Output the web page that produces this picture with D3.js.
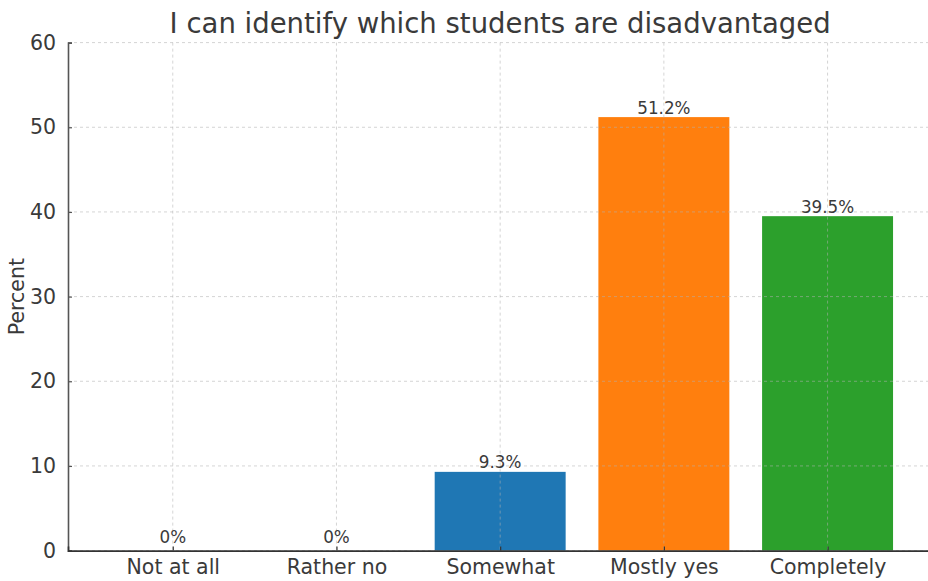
<!DOCTYPE html>
<html>
<head>
<meta charset="utf-8">
<script src="https://cdn.jsdelivr.net/npm/d3@7"></script>
<style>
  html, body { margin: 0; padding: 0; background: #fff; overflow: hidden; }
  svg { display: block; font-family: "DejaVu Sans", sans-serif; }
</style>
</head>
<body>
<svg id="chart" width="928" height="581"></svg>
<script>
const categories = ["Not at all", "Rather no", "Somewhat", "Mostly yes", "Completely"];
const values = [0, 0, 9.3, 51.2, 39.5];
const valueLabels = ["0%", "0%", "9.3%", "51.2%", "39.5%"];
const barColors = ["#1f77b4", "#1f77b4", "#1f77b4", "#ff7f0e", "#2ca02c"];
const yTicks = [0, 10, 20, 30, 40, 50, 60];
const title = "I can identify which students are disadvantaged";
const yLabel = "Percent";

const svg = d3.select("#chart");
const mLeft = 68, mTop = 42.6, mBottom = 550.6;
const step = 163.7;
const x = d3.scaleLinear().domain([-0.64, 4.64]).range([mLeft, mLeft + 5.28 * step]);
const y = d3.scaleLinear().domain([0, 60]).range([mBottom, mTop]);
const textColor = "#3a3a3a";

// bars
const bw = 0.8;
svg.append("g").selectAll("rect").data(values).join("rect")
  .attr("x", (d, i) => x(i - bw / 2))
  .attr("width", x(bw) - x(0))
  .attr("y", d => y(d))
  .attr("height", d => y(0) - y(d))
  .attr("fill", (d, i) => barColors[i]);

// grid (drawn over bars)
const grid = svg.append("g");
grid.selectAll("line.h").data(yTicks).join("line")
  .attr("x1", mLeft).attr("x2", x(4.64))
  .attr("y1", d => y(d)).attr("y2", d => y(d))
  .attr("stroke", "#b0b0b0").attr("stroke-opacity", 0.55).attr("stroke-width", 1).attr("stroke-dasharray", "3,3");
grid.selectAll("line.v").data(categories).join("line")
  .attr("x1", (d, i) => x(i)).attr("x2", (d, i) => x(i))
  .attr("y1", mTop).attr("y2", mBottom)
  .attr("stroke", "#b0b0b0").attr("stroke-opacity", 0.55).attr("stroke-width", 1).attr("stroke-dasharray", "3,3");

// value labels
svg.append("g").selectAll("text").data(values).join("text")
  .attr("x", (d, i) => x(i))
  .attr("y", d => y(d) - (d === 0 ? 8 : 3.5))
  .attr("text-anchor", "middle")
  .attr("font-size", 16.8)
  .attr("fill", textColor)
  .text((d, i) => valueLabels[i]);

// axes
const yAxis = d3.axisLeft(y).tickValues(yTicks).tickSize(-4).tickPadding(12).tickFormat(d3.format("d"));
const yg = svg.append("g").attr("transform", `translate(${mLeft},0)`).call(yAxis);
yg.select(".domain").attr("stroke", "#555").attr("stroke-width", 1.6);
yg.selectAll(".tick line").attr("stroke", "#555").attr("stroke-width", 1.2);
yg.selectAll(".tick text").attr("font-size", 20.5).attr("fill", textColor).attr("font-family", "DejaVu Sans");

const xAxis = d3.axisBottom(x).tickValues(d3.range(categories.length)).tickSize(-4).tickPadding(12)
  .tickFormat(i => categories[i]);
const xg = svg.append("g").attr("transform", `translate(0,${mBottom})`).call(xAxis);
xg.select(".domain").attr("stroke", "#333").attr("stroke-width", 1.6);
xg.selectAll(".tick line").attr("stroke", "#333").attr("stroke-width", 1.2);
xg.selectAll(".tick text").attr("font-size", 20.5).attr("fill", textColor).attr("font-family", "DejaVu Sans")
  .attr("dy", null).attr("y", 23.5);

// title
svg.append("text")
  .attr("x", x(2)).attr("y", 33)
  .attr("text-anchor", "middle")
  .attr("font-size", 27.5)
  .attr("fill", textColor)
  .text(title);

// y label
svg.append("text")
  .attr("transform", `translate(24,${(mTop + mBottom) / 2}) rotate(-90)`)
  .attr("text-anchor", "middle")
  .attr("font-size", 20.5)
  .attr("fill", textColor)
  .text(yLabel);
</script>
</body>
</html>
